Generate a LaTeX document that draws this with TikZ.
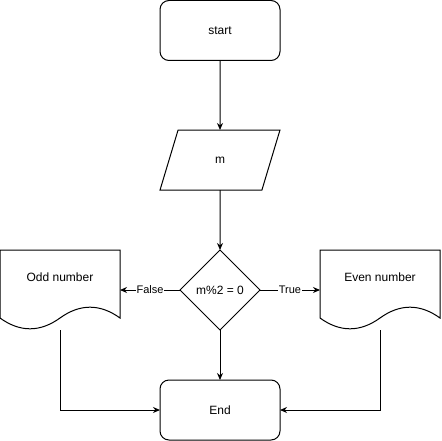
\documentclass[tikz,border=0pt]{standalone}
\usepackage{fontspec}
\setmainfont{Liberation Sans}
\usetikzlibrary{arrows.meta,shapes.geometric}
\begin{document}
\begin{tikzpicture}[x=1pt,y=-1pt,
  every node/.style={font=\fontsize{12}{14}\selectfont, inner sep=0pt, outer sep=0pt},
  line/.style={draw=black, line width=1pt},
  arrow/.style={line, -{Stealth[length=7pt,width=6pt]}},
  term/.style={line, rounded corners=9pt, minimum width=120pt, minimum height=60pt},
  io/.style={line, trapezium, trapezium left angle=71.565, trapezium right angle=108.435, minimum height=60pt, minimum width=120pt, trapezium stretches=true},
  decision/.style={line, diamond, minimum width=80pt, minimum height=80pt, aspect=1},
  docbox/.style={minimum width=120pt, minimum height=80pt},
  lab/.style={fill=white, font=\fontsize{11}{13}\selectfont, inner sep=0.5pt}
]
\useasboundingbox (0,0) rectangle (441,441);
\node[term] (start) at (220,30.5) {start};
\node[io] (m) at (220,160) {m};
\node[decision] (dec) at (220,290) {m\%2 = 0};
\node[term] (end) at (220,410) {End};
\node[docbox] (odd) at (60,290) {};
\node[docbox] (even) at (380,290) {};
\node at (60,277) {Odd number};
\node at (380,277) {Even number};
% document outlines
\draw[line] (0,250) -- (120,250) -- (120,318) .. controls (100,303.6) and (80,303.6) .. (60,318) .. controls (40,332.4) and (20,332.4) .. (0,318) -- cycle;
\draw[line] (320,250) -- (440,250) -- (440,318) .. controls (420,303.6) and (400,303.6) .. (380,318) .. controls (360,332.4) and (340,332.4) .. (320,318) -- cycle;
% connectors
\draw[arrow] (start.south) -- (m.north);
\draw[arrow] (m.south) -- (dec.north);
\draw[arrow] (dec.south) -- (end.north);
\draw[arrow] (dec.west) -- node[lab] {False} (odd.east);
\draw[arrow] (dec.east) -- node[lab] {True} (even.west);
\draw[arrow] (odd.south) |- (end.west);
\draw[arrow] (even.south) |- (end.east);
\end{tikzpicture}
\end{document}
